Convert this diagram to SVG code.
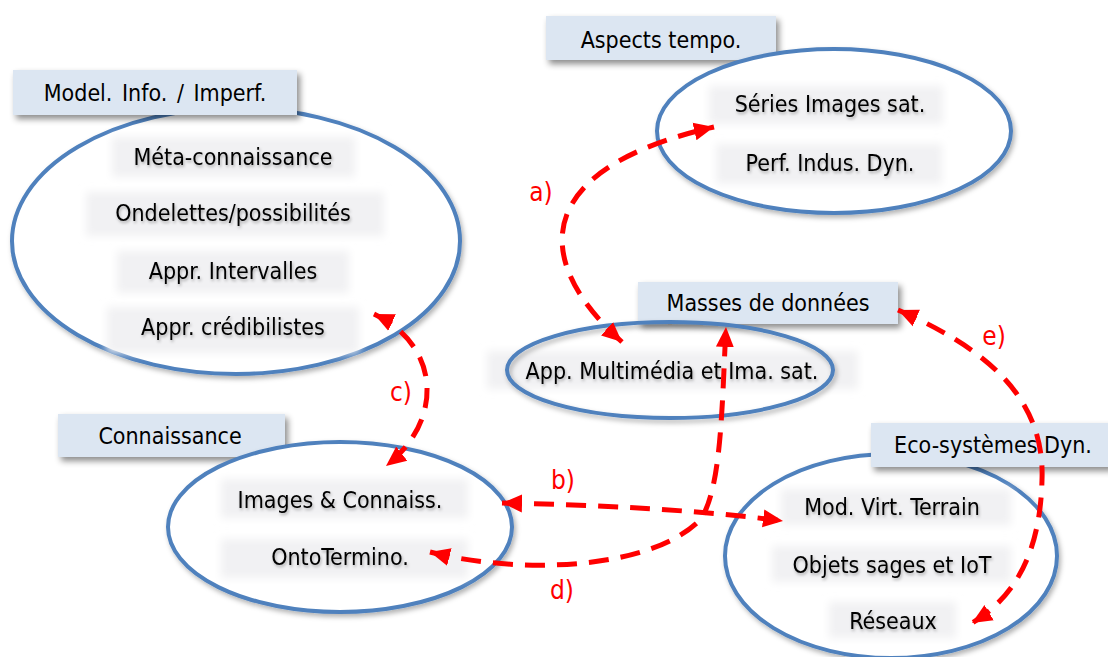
<svg xmlns="http://www.w3.org/2000/svg" width="1108" height="657" viewBox="0 0 1108 657">
<defs>
<filter id="sh" x="-20%" y="-20%" width="150%" height="160%"><feDropShadow dx="3" dy="4" stdDeviation="3" flood-color="#000" flood-opacity="0.45"/></filter>
<filter id="esh" x="-10%" y="-10%" width="120%" height="130%"><feDropShadow dx="2" dy="3" stdDeviation="2.5" flood-color="#000" flood-opacity="0.3"/></filter>
<filter id="bl" x="-10%" y="-30%" width="120%" height="160%"><feGaussianBlur stdDeviation="4"/></filter>
<filter id="tsh" x="-5%" y="-20%" width="110%" height="150%"><feDropShadow dx="1" dy="2" stdDeviation="1.5" flood-color="#000" flood-opacity="0.3"/></filter>
<marker id="ah" viewBox="0 0 20 20" refX="20" refY="10" markerWidth="20" markerHeight="20" markerUnits="userSpaceOnUse" orient="auto-start-reverse"><path d="M0,1 L20,10 L0,19 Z" fill="#ff0000"/></marker>
</defs>
<style>
.hdr{fill:#dce6f2;filter:url(#sh)}
.ell{fill:#ffffff;stroke:#4f81bd;stroke-width:4;filter:url(#esh)}
.tb{fill:#f1f1f3;filter:url(#bl)}
.t{font-family:"DejaVu Sans Condensed","DejaVu Sans",sans-serif;font-size:23px;fill:#000;text-anchor:middle;dominant-baseline:central;filter:url(#tsh)}
.h{font-family:"DejaVu Sans Condensed","DejaVu Sans",sans-serif;font-size:23px;fill:#000;text-anchor:middle;dominant-baseline:central}
.c{fill:none;stroke:#ff0000;stroke-width:5;stroke-dasharray:20 12;marker-start:url(#ah);marker-end:url(#ah)}
.lb{font-family:"DejaVu Sans Condensed","DejaVu Sans",sans-serif;font-size:26px;fill:#ff0000;text-anchor:middle;dominant-baseline:central}
</style>
<g id="model-info">
<ellipse class="ell" cx="236" cy="241" rx="224" ry="133"/>
<rect class="hdr" x="13" y="70" width="284" height="45"/>
<text class="h" x="155" y="93" word-spacing="3">Model. Info. / Imperf.</text>
<rect class="tb" x="112" y="137" width="243" height="40"/>
<text class="t" x="233" y="157">Méta-connaissance</text>
<rect class="tb" x="86" y="192" width="298" height="44"/>
<text class="t" x="233" y="213">Ondelettes/possibilités</text>
<rect class="tb" x="117" y="251" width="232" height="42"/>
<text class="t" x="233" y="271">Appr. Intervalles</text>
<rect class="tb" x="107" y="307" width="252" height="46"/>
<text class="t" x="233" y="327">Appr. crédibilistes</text>
</g>
<g id="aspects-tempo">
<rect class="hdr" x="546" y="16" width="230" height="44"/>
<text class="h" x="661" y="40">Aspects tempo.</text>
<ellipse class="ell" cx="834" cy="131" rx="177" ry="82"/>
<rect class="tb" x="709" y="86" width="234" height="38"/>
<text class="t" x="830" y="104">Séries Images sat.</text>
<rect class="tb" x="716" y="144" width="226" height="40"/>
<text class="t" x="830" y="163">Perf. Indus. Dyn.</text>
</g>
<g id="masses">
<rect class="hdr" x="638" y="282" width="260" height="42"/>
<text class="h" x="768" y="303">Masses de données</text>
<rect class="tb" x="487" y="351" width="371" height="38"/>
<ellipse class="ell" cx="670" cy="370" rx="163" ry="48" style="fill:none"/>
<text class="t" x="672" y="371">App. Multimédia et Ima. sat.</text>
</g>
<g id="connaissance">
<rect class="hdr" x="58" y="414" width="227" height="43"/>
<text class="h" x="170" y="436">Connaissance</text>
<ellipse class="ell" cx="340" cy="527" rx="172" ry="85"/>
<rect class="tb" x="221" y="479" width="247" height="39"/>
<text class="t" x="340" y="500">Images &amp; Connaiss.</text>
<rect class="tb" x="221" y="539" width="247" height="39"/>
<text class="t" x="340" y="557">OntoTermino.</text>
</g>
<g id="eco-systemes">
<ellipse class="ell" cx="891" cy="556" rx="166" ry="102"/>
<rect class="hdr" x="871" y="423" width="240" height="44"/>
<text class="h" x="993" y="445">Eco-systèmes Dyn.</text>
<rect class="tb" x="781" y="489" width="230" height="36"/>
<text class="t" x="892" y="507">Mod. Virt. Terrain</text>
<rect class="tb" x="772" y="546" width="239" height="36"/>
<text class="t" x="892" y="565">Objets sages et IoT</text>
<rect class="tb" x="829" y="602" width="127" height="36"/>
<text class="t" x="893" y="621">Réseaux</text>
</g>
<g id="connectors">
<path class="c" d="M 622 342 C 535 265, 525 170, 714 127"/>
<path class="c" d="M 502 503 C 600 505, 700 510, 783 521"/>
<path class="c" d="M 374 314 C 440 345, 445 420, 386 466"/>
<path class="c" d="M 430 552 C 520 575, 650 570, 700 520 C 722 490, 722 400, 726 327"/>
<path class="c" d="M 898 310 C 990 350, 1045 400, 1042 480 C 1040 560, 1010 600, 972 623"/>
<text class="lb" x="541" y="192">a)</text>
<text class="lb" x="563" y="480">b)</text>
<text class="lb" x="401" y="392">c)</text>
<text class="lb" x="562" y="590">d)</text>
<text class="lb" x="994" y="336">e)</text>
</g>
</svg>
